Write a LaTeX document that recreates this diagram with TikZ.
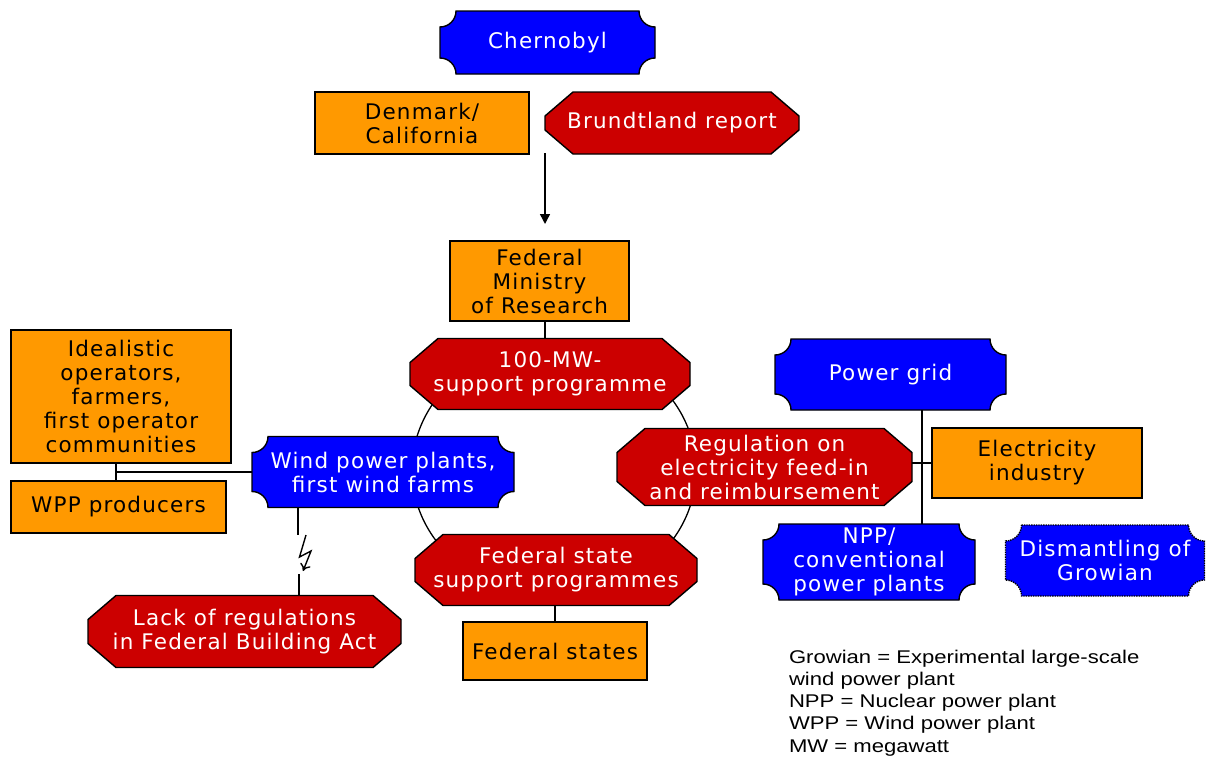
\documentclass[tikz,border=0pt]{standalone}
\usepackage{fontspec}
\setmainfont{DejaVu Sans}
\newfontfamily\vfont[LetterSpace=5.5]{DejaVu Sans}
\newfontfamily\legfont[FakeStretch=1.2]{Liberation Sans}
\usetikzlibrary{calc,arrows.meta}
\pgfdeclarelayer{circ}\pgfdeclarelayer{bg}\pgfsetlayers{circ,bg,main}
\definecolor{orng}{HTML}{FF9900}
\definecolor{rd}{HTML}{CC0000}
\definecolor{bl}{HTML}{0000FF}
\newcommand\cx{28}
\newcommand\cy{24}
\newcommand\rr{16}
\newcommand\octopath[1]{($(#1.north west)+(\cx,0)$) -- ($(#1.north east)+(-\cx,0)$) -- ($(#1.north east)+(0,-\cy)$) -- ($(#1.south east)+(0,\cy)$) -- ($(#1.south east)+(-\cx,0)$) -- ($(#1.south west)+(\cx,0)$) -- ($(#1.south west)+(0,\cy)$) -- ($(#1.north west)+(0,-\cy)$) -- cycle}
\newcommand\plaquepath[1]{($(#1.north west)+(\rr,0)$) -- ($(#1.north east)+(-\rr,0)$) arc[start angle=180,end angle=270,radius=\rr] -- ($(#1.south east)+(0,\rr)$) arc[start angle=90,end angle=180,radius=\rr] -- ($(#1.south west)+(\rr,0)$) arc[start angle=0,end angle=90,radius=\rr] -- ($(#1.north west)+(0,-\rr)$) arc[start angle=270,end angle=360,radius=\rr] -- cycle}
\tikzset{
  base/.style={inner sep=0pt, outer sep=0pt, align=center,
    font=\vfont\fontsize{21.5pt}{24pt}\selectfont},
  obox/.style={base, text=black, fill=orng, draw=black, line width=1.4pt},
  rbox/.style={base, text=white},
  bbox/.style={base, text=white},
  redshape/.style={fill=rd, draw=black, line width=1.4pt},
  blueshape/.style={fill=bl, draw=black, line width=1.4pt},
  conn/.style={draw=black, line width=1.4pt},
}
\begin{document}
\begin{tikzpicture}[x=1pt,y=1pt]
\useasboundingbox (0,0) rectangle (1206,-758);
% nodes
\node[bbox, minimum width=215, minimum height=63] (chern) at (547.5,-42.5) {Chernobyl};
\node[obox, minimum width=214, minimum height=62] (den) at (422,-123) {Denmark/\\California};
\node[rbox, minimum width=254, minimum height=62] (brundt) at (672,-123) {Brundtland report};
\node[obox, minimum width=179, minimum height=80] (fmr) at (539.5,-281) {Federal\\Ministry\\of Research};
\node[rbox, minimum width=280, minimum height=71] (mw) at (550,-374) {100-MW-\\support programme};
\node[obox, minimum width=220, minimum height=133] (ideal) at (121,-396.5) {Idealistic\\operators,\\farmers,\\first operator\\communities};
\node[obox, minimum width=215, minimum height=52] (wppp) at (118.5,-507) {WPP producers};
\node[bbox, minimum width=262, minimum height=71] (wind) at (383,-472) {Wind power plants,\\first wind farms};
\node[rbox, minimum width=295, minimum height=77] (reg) at (764.5,-467) {Regulation on\\electricity feed-in\\and reimbursement};
\node[bbox, minimum width=231, minimum height=71] (grid) at (890.5,-374.5) {Power grid};
\node[obox, minimum width=210, minimum height=70] (elec) at (1037,-463) {Electricity\\industry};
\node[bbox, minimum width=212, minimum height=76] (npp) at (869,-562) {NPP/\\conventional\\power plants};
\node[bbox, minimum width=199, minimum height=71] (dism) at (1105,-560.5) {Dismantling of\\Growian};
\node[rbox, minimum width=282, minimum height=71] (fss) at (556,-570) {Federal state\\support programmes};
\node[obox, minimum width=184, minimum height=58] (fs) at (555,-651) {Federal states};
\node[rbox, minimum width=313, minimum height=72] (lack) at (244.5,-631.5) {Lack of regulations\\in Federal Building Act};
\node[anchor=north west, align=left, inner sep=0pt, outer sep=0pt,
  font=\legfont\fontsize{18.4pt}{22.2pt}\selectfont] (leg) at (789,-650)
  {Growian = Experimental large-scale\\wind power plant\\NPP = Nuclear power plant\\WPP = Wind power plant\\MW = megawatt};
% shapes
\begin{pgfonlayer}{circ}
\draw[line width=1.3pt] (554,-470) ellipse[x radius=142, y radius=127];
\end{pgfonlayer}
\begin{pgfonlayer}{bg}
\path[redshape] \octopath{brundt};
\path[redshape] \octopath{mw};
\path[redshape] \octopath{reg};
\path[redshape] \octopath{fss};
\path[redshape] \octopath{lack};
\path[blueshape] \plaquepath{chern};
\path[blueshape] \plaquepath{wind};
\path[blueshape] \plaquepath{grid};
\path[blueshape] \plaquepath{npp};
\path[blueshape, densely dotted] \plaquepath{dism};
\end{pgfonlayer}
% connectors
\coordinate (arrS) at (545,-153);
\coordinate (arrE) at (545,-224);
\draw[conn, -{Triangle[length=10pt,width=10pt]}] (arrS) -- (arrE);
\coordinate (fx) at (545,0);
\draw[conn] (fmr.south -| fx) -- (mw.north -| fx);
\coordinate (jx) at (116,-472);
\draw[conn] (ideal.south -| jx) -- (wppp.north -| jx);
\draw[conn] (jx) -- (wind.west |- jx);
\coordinate (gx) at (922,0);
\draw[conn] (grid.south -| gx) -- (npp.north -| gx);
\draw[conn] (reg.east |- elec.west) -- (elec.west);
\draw[conn] (fs.north) -- (fs.north |- fss.south);
% lightning
\coordinate (lx) at (298,0);
\coordinate (z1) at (306,-535);
\coordinate (z2) at (299.5,-557);
\coordinate (z3) at (311,-551);
\coordinate (z4) at (303,-571);
\coordinate (lb) at (299,-574);
\draw[conn] (wind.south -| lx) -- (lx |- z1);
\draw[conn, line join=miter, -{To[length=7pt,width=11pt]}] (z1) -- (z2) -- (z3) -- (z4);
\draw[conn] (lb) -- (lack.north -| lb);
\end{tikzpicture}
\end{document}
